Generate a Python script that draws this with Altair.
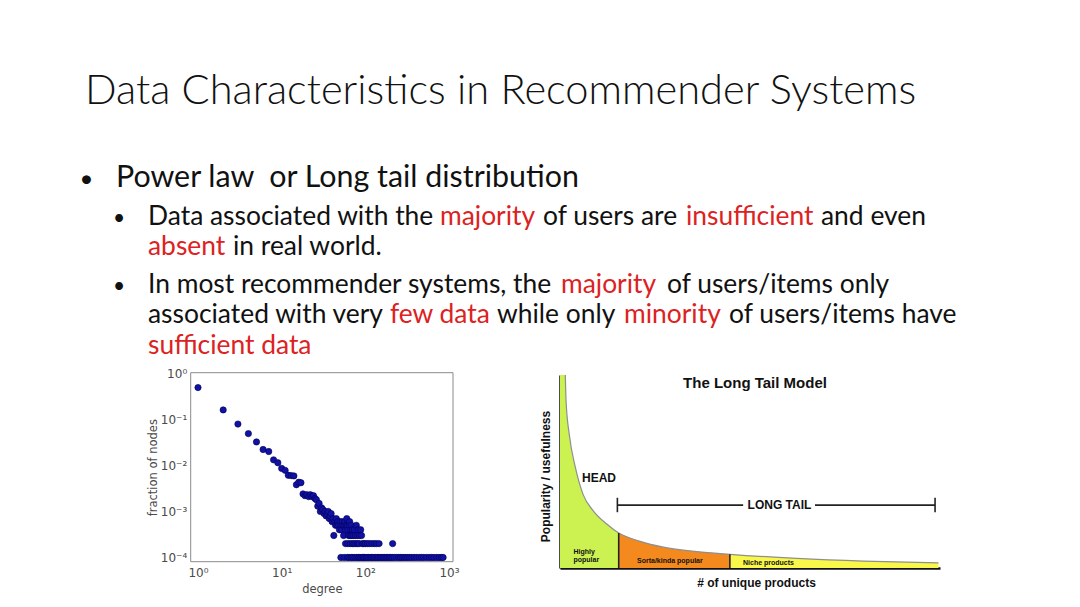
import altair as alt
import pandas as pd

# ======================= DATA =======================
# --- slide text ---
TITLE = "Data Characteristics in Recommender Systems"
BULLET_1 = "Power law \u00a0or Long tail distribution"
LINE_2 = ["Data associated with the", "majority", "of users are", "insufficient", "and even"]
LINE_2_RED = [False, True, False, True, False]
LINE_3 = ["absent", "in real world."]
LINE_3_RED = [True, False]
LINE_4 = ["In most recommender systems, the", "majority", "of users/items only"]
LINE_4_RED = [False, True, False]
LINE_5 = ["associated with very", "few data", "while only", "minority", "of users/items have"]
LINE_5_RED = [False, True, False, True, False]
LINE_6 = ["sufficient data"]
LINE_6_RED = [True]

# --- degree distribution (log-log scatter) ---
N_NODES = 10000
head_degree = [1, 2, 3, 4, 5, 6, 7, 8, 9, 10, 11, 12, 13, 14, 15, 16]
head_fraction = [0.49, 0.16, 0.079, 0.049, 0.0323, 0.0221, 0.020, 0.0132, 0.0114,
                 0.0086, 0.0078, 0.0061, 0.0060, 0.0059, 0.0038, 0.0043]
mid_degree = [17, 18, 19, 20, 21, 22, 23, 24, 25, 26, 27, 28, 29, 30, 31, 32, 33, 34,
              35, 36, 37, 38, 39, 40, 41, 42, 43, 44, 45, 46, 47, 48, 49, 50, 51, 52,
              53, 54, 55, 56, 57, 58, 59, 60, 61, 62, 63, 64, 65, 66, 67, 68, 69, 70,
              72, 74, 76, 78, 80, 82, 85, 88, 90]
mid_count = [42, 24, 22, 23, 21, 23, 21, 22, 19, 18, 13, 15, 10, 12, 11, 9, 10, 8,
             9, 10, 7, 8, 9, 6, 7, 3, 6, 5, 7, 5, 6, 5, 4, 6, 5, 4,
             6, 5, 3, 5, 6, 4, 5, 7, 5, 4, 3, 5, 6, 3, 4, 5, 3, 4,
             3, 4, 3, 5, 3, 4, 3, 4, 3]
two_degree = [58, 62, 66, 70, 73, 77, 81, 84, 92, 96, 100, 106, 112, 120, 128, 136, 146, 212]
one_degree = [51, 56, 61, 64, 68, 71, 75, 79, 83, 86, 89, 93, 95, 98, 102, 105, 109, 114,
              118, 123, 127, 133, 139, 144, 150, 157, 163, 170, 178, 185, 193, 201, 210,
              222, 236, 250, 262, 275, 290, 305, 322, 340, 360, 385, 410, 440, 470, 500,
              540, 580, 620, 660, 710, 760, 810, 850]
scatter_x_ticks = [1, 10, 100, 1000]
scatter_y_ticks = [0.0001, 0.001, 0.01, 0.1, 1]

# --- long tail model ---
curve_x = [0, 1.4, 1.6, 2.45, 4.0, 6.1, 8.8, 12.3, 15.45, 21.1, 27.2, 36.0, 44.7, 62.3, 79.8, 99.6]
curve_y = [100, 100, 86.4, 69.1, 52.5, 38.0, 29.5, 22.8, 18.1, 13.8, 10.8, 8.5, 7.1, 5.0, 3.6, 2.7]
segment_names = ["Highly popular", "Sorta/kinda popular", "Niche products"]
segment_bounds = [0, 15.45, 44.7, 99.6]
segment_colors = ["#cbf250", "#f48a1e", "#f9f84a"]
bracket_x = [15.1, 98.7]
bracket_gap = [48.2, 67.1]
bracket_y = 32.6
bracket_tick = [28.9, 36.4]

# ======================= LAYOUT =======================
W, H = 1064, 591
M = 8  # page margin: positions below are given in page pixels


def c(v):
    return v - M


RED = "#dc2222"
BLACK = "#111111"

rows = []
bullets = []
bullets.append(dict(t="•", px=c(86.5), py=c(187), fs=24))
rows.append(dict(t=BULLET_1, px=c(116), py=c(187), col=BLACK, fs=30.4))
line_specs = [
    (LINE_2, LINE_2_RED, [148, 440, 543, 686, 821], 225, True),
    (LINE_3, LINE_3_RED, [148, 233], 255, False),
    (LINE_4, LINE_4_RED, [148, 561, 667], 293, True),
    (LINE_5, LINE_5_RED, [148, 390, 497, 624, 729], 323, False),
    (LINE_6, LINE_6_RED, [148], 354, False),
]
for parts, reds, xs, base, bullet in line_specs:
    if bullet:
        bullets.append(dict(t="•", px=c(119), py=c(base), fs=21))
    for p, r, x in zip(parts, reds, xs):
        rows.append(dict(t=p, px=c(x), py=c(base), col=RED if r else BLACK, fs=26.4))
slide_df = pd.DataFrame(rows)
bullet_df = pd.DataFrame(bullets)
title_df = pd.DataFrame([dict(t=TITLE, px=c(85), py=c(104))])

title_text = alt.Chart(title_df).mark_text(
    align="left", baseline="alphabetic", font="Lato", fontWeight=300, fontSize=41.6,
    color=BLACK
).encode(
    x=alt.X("px:Q", scale=None, axis=None),
    y=alt.Y("py:Q", scale=None, axis=None),
    text="t:N",
)
slide_text = alt.Chart(slide_df).mark_text(
    align="left", baseline="alphabetic", font="Lato"
).encode(
    x=alt.X("px:Q", scale=None, axis=None),
    y=alt.Y("py:Q", scale=None, axis=None),
    text="t:N",
    color=alt.Color("col:N", scale=None),
    size=alt.Size("fs:Q", scale=None),
)
bullet_text = alt.Chart(bullet_df).mark_text(
    align="center", baseline="alphabetic", font="Lato", color=BLACK
).encode(
    x=alt.X("px:Q", scale=None, axis=None),
    y=alt.Y("py:Q", scale=None, axis=None),
    text="t:N",
    size=alt.Size("fs:Q", scale=None),
)

# ---------- scatter ----------
sc_deg = head_degree + mid_degree + two_degree + one_degree
sc_frac = (head_fraction + [n / N_NODES for n in mid_count]
           + [2 / N_NODES] * len(two_degree) + [1 / N_NODES] * len(one_degree))
scatter_df = pd.DataFrame({"degree": sc_deg, "fraction": sc_frac})

SX_DOMAIN = [0.818, 1116]
SY_DOMAIN = [0.81e-4, 1.03]
SX_RANGE = [c(190.7), c(453)]
SY_RANGE = [c(561.7), c(372.7)]
GRAY = "#4a4a4a"


def sx():
    return alt.Scale(type="log", domain=SX_DOMAIN, range=SX_RANGE)


def sy():
    return alt.Scale(type="log", domain=SY_DOMAIN, range=SY_RANGE)


x_label_expr = ("datum.value < 5 ? '10⁰' : datum.value < 50 ? '10¹' : "
                "datum.value < 500 ? '10²' : '10³'")
y_label_expr = ("datum.value > 0.5 ? '10⁰' : datum.value > 0.05 ? '10⁻¹' : "
                "datum.value > 0.005 ? '10⁻²' : datum.value > 0.0005 ? '10⁻³' : '10⁻⁴'")

frame_df = pd.DataFrame({"x0": [SX_DOMAIN[0]], "x1": [SX_DOMAIN[1]],
                         "y0": [SY_DOMAIN[0]], "y1": [SY_DOMAIN[1]]})
frame = alt.Chart(frame_df).mark_rect(fill=None, stroke="#8a8a8a", strokeWidth=1).encode(
    x=alt.X("x0:Q", scale=sx(), axis=alt.Axis(
        orient="bottom", offset=SY_RANGE[0] - H, values=scatter_x_ticks,
        labelExpr=x_label_expr, domain=False, ticks=False, grid=False,
        labelFont="DejaVu Sans", labelFontSize=12, labelColor=GRAY, labelPadding=6,
        title="degree", titleFont="DejaVu Sans", titleFontSize=11.5,
        titleFontWeight="normal", titleColor=GRAY, titlePadding=5)),
    x2="x1:Q",
    y=alt.Y("y0:Q", scale=sy(), axis=alt.Axis(
        orient="left", offset=-SX_RANGE[0], values=scatter_y_ticks,
        labelExpr=y_label_expr, domain=False, ticks=False, grid=False,
        labelFont="DejaVu Sans", labelFontSize=12, labelColor=GRAY, labelPadding=4,
        title="fraction of nodes", titleFont="DejaVu Sans", titleFontSize=11.5,
        titleFontWeight="normal", titleColor=GRAY, titlePadding=2)),
    y2="y1:Q",
)
points = alt.Chart(scatter_df).mark_circle(
    size=40, color="#1212a2", opacity=1, stroke="#00005a", strokeWidth=0.6
).encode(
    x=alt.X("degree:Q", scale=sx(), axis=None),
    y=alt.Y("fraction:Q", scale=sy(), axis=None),
)

# ---------- long tail ----------
LX_RANGE = [c(560), c(940)]
LY_RANGE = [c(568), c(375)]


def lx():
    return alt.Scale(domain=[0, 100], range=LX_RANGE)


def ly():
    return alt.Scale(domain=[0, 100], range=LY_RANGE)


area_layers = []
for i, name in enumerate(segment_names):
    lo, hi = segment_bounds[i], segment_bounds[i + 1]
    seg_df = pd.DataFrame([dict(x=xv, y=yv) for xv, yv in zip(curve_x, curve_y)
                           if lo <= xv <= hi])
    if i == 0:
        xa = alt.Axis(
            orient="bottom", offset=LY_RANGE[0] - H, domain=True, domainColor="#111111",
            domainWidth=2.5, ticks=False, labels=False, grid=False,
            title="# of unique products", titleFont="Liberation Sans", titleFontSize=12,
            titleFontWeight="bold", titleColor="#111111", titlePadding=9,
            titleX=c(756))
        ya = alt.Axis(
            orient="left", offset=-LX_RANGE[0], domain=True, domainColor="#111111",
            domainWidth=2.5, ticks=False, labels=False, grid=False,
            title="Popularity / usefulness", titleFont="Liberation Sans", titleFontSize=12,
            titleFontWeight="bold", titleColor="#111111", titlePadding=8,
            titleY=c(476))
    else:
        xa = None
        ya = None
    area_layers.append(
        alt.Chart(seg_df).mark_area(interpolate="monotone", color=segment_colors[i],
                                    opacity=1).encode(
            x=alt.X("x:Q", scale=lx(), axis=xa),
            y=alt.Y("y:Q", scale=ly(), stack=None, axis=ya),
        )
    )

curve_df = pd.DataFrame({"x": curve_x[1:], "y": curve_y[1:]})
curve = alt.Chart(curve_df).mark_line(
    interpolate="monotone", color="#8f8f8f", strokeWidth=1.2
).encode(
    x=alt.X("x:Q", scale=lx(), axis=None),
    y=alt.Y("y:Q", scale=ly(), axis=None),
)
div_x = segment_bounds[1:3]
div_top = [curve_y[curve_x.index(v)] for v in div_x]
rule_df = pd.DataFrame({
    "x": div_x + [bracket_x[0], bracket_gap[1], bracket_x[0], bracket_x[1]],
    "x2": div_x + [bracket_gap[0], bracket_x[1], bracket_x[0], bracket_x[1]],
    "y": [0, 0] + [bracket_y, bracket_y, bracket_tick[0], bracket_tick[0]],
    "y2": div_top + [bracket_y, bracket_y, bracket_tick[1], bracket_tick[1]],
})
rules = alt.Chart(rule_df).mark_rule(color="#222222", strokeWidth=1.6).encode(
    x=alt.X("x:Q", scale=lx(), axis=None), x2="x2:Q",
    y=alt.Y("y:Q", scale=ly(), axis=None), y2="y2:Q",
)

lt_rows = [
    dict(t="The Long Tail Model", px=c(755), py=c(383), fs=15, al="center"),
    dict(t="HEAD", px=c(582), py=c(478), fs=12, al="left"),
    dict(t="LONG TAIL", px=c(779.5), py=c(505), fs=12, al="center"),
    dict(t="Highly", px=c(573.5), py=c(551.5), fs=7, al="left"),
    dict(t="popular", px=c(573.5), py=c(560), fs=7, al="left"),
    dict(t="Sorta/kinda popular", px=c(637), py=c(561), fs=7, al="left"),
    dict(t="Niche products", px=c(743), py=c(562.5), fs=7, al="left"),
]
lt_df = pd.DataFrame(lt_rows)
lt_left = alt.Chart(lt_df[lt_df.al == "left"]).mark_text(
    align="left", baseline="middle", font="Liberation Sans", fontWeight="bold", color="#111111"
).encode(
    x=alt.X("px:Q", scale=None, axis=None), y=alt.Y("py:Q", scale=None, axis=None),
    text="t:N", size=alt.Size("fs:Q", scale=None),
)
lt_center = alt.Chart(lt_df[lt_df.al == "center"]).mark_text(
    align="center", baseline="middle", font="Liberation Sans", fontWeight="bold", color="#111111"
).encode(
    x=alt.X("px:Q", scale=None, axis=None), y=alt.Y("py:Q", scale=None, axis=None),
    text="t:N", size=alt.Size("fs:Q", scale=None),
)

chart = alt.layer(
    *area_layers, curve, rules, frame, points, title_text, slide_text, bullet_text,
    lt_left, lt_center
).resolve_scale(
    x="independent", y="independent", color="independent", size="independent"
).resolve_axis(
    x="independent", y="independent"
).properties(
    width=W, height=H, autosize=alt.AutoSizeParams(type="none"), padding=0,
    background="white"
).configure_view(stroke=None)

chart.save("out.html", embed_options={"renderer": "svg", "actions": False})
